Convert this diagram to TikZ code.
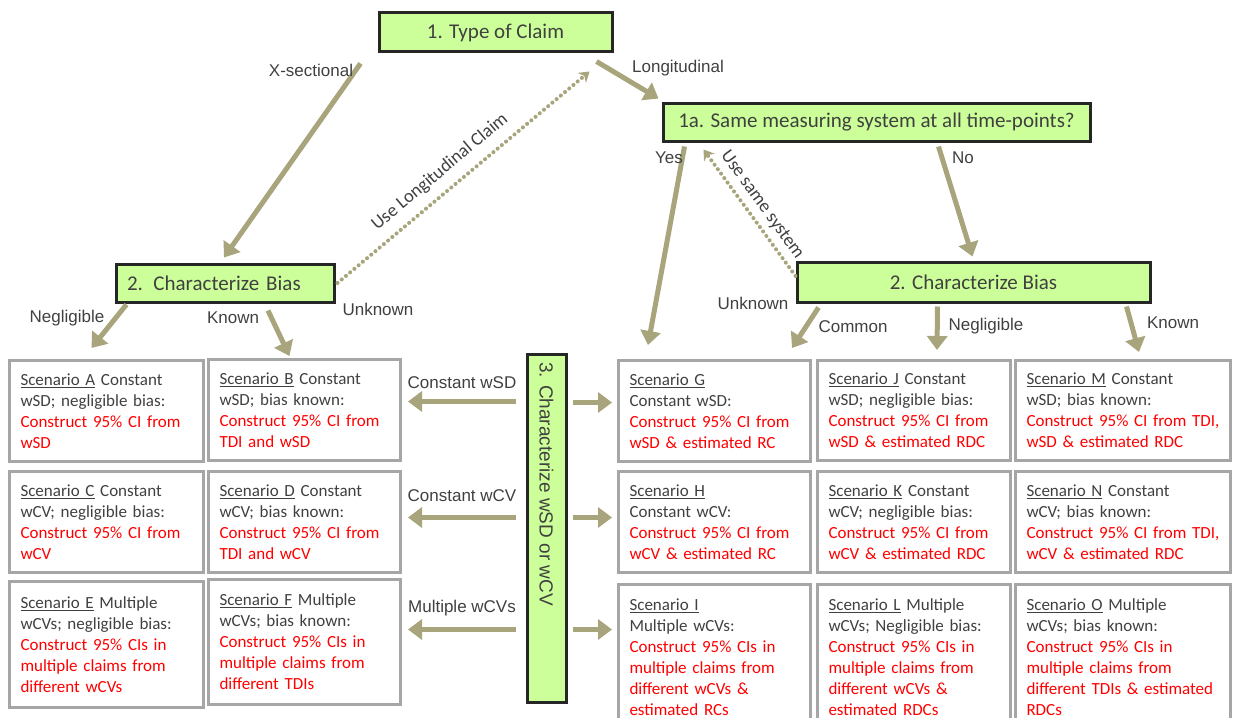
\documentclass[tikz,border=0pt]{standalone}
\usepackage{fontspec}
\setmainfont{Carlito}
\newfontfamily\arialfont{Liberation Sans}
\usetikzlibrary{arrows.meta,calc}
\definecolor{boxgreen}{HTML}{CCFF99}
\definecolor{boxedge}{HTML}{262626}
\definecolor{darktext}{HTML}{404040}
\definecolor{arrowolive}{HTML}{A8A47C}
\definecolor{scengray}{HTML}{A6A6A6}
\definecolor{scenred}{HTML}{FF0000}

\tikzset{
  question/.style={draw=boxedge, fill=boxgreen, line width=3pt, text=darktext,
    font=\fontsize{21}{24}\selectfont, inner sep=0pt},
  scenario/.style={draw=scengray, line width=3pt, anchor=north west, align=left,
    inner xsep=11pt, inner ysep=0pt, text=darktext, font=\fontsize{17}{21}\selectfont},
  branch/.style={text=darktext, font=\arialfont\fontsize{17}{20}\selectfont, inner sep=1pt},
  bigarrow/.style={draw=arrowolive, line width=5pt, -{Triangle[width=20pt,length=14pt]}},
  dotarrow/.style={draw=arrowolive, line width=4pt, dash pattern=on 0.1pt off 5.4pt,
    line cap=round, -{Stealth[width=13pt,length=10pt]}},
}

\begin{document}
\begin{tikzpicture}[x=1pt,y=-1pt]
  \useasboundingbox (0,0) rectangle (1233,717);

  % questions
  \node[question, minimum width=233pt, minimum height=39pt] (claim) at (495.5,32.5) {1. Type of Claim};
  \node[question, minimum width=427pt, minimum height=38pt] (same) at (876.5,122) {1a. Same measuring system at all time-points?};
  \node[question, text width=196pt, align=left, inner xsep=11pt, minimum height=38pt] (biasL) at (225,283) {2. Characterize Bias};
  \node[question, minimum width=353pt, minimum height=40pt] (biasR) at (973.5,282) {2. Characterize Bias};
  \node[question, minimum width=39pt, minimum height=348pt] (wsd) at (546.5,528) {};
  \node[text=darktext, font=\arialfont\fontsize{19}{22}\selectfont, rotate=-90, anchor=west, inner sep=0pt] (wsdlbl) at (546.5,362) {3. Characterize wSD or wCV};

  % scenarios
  \node[scenario, text width=172pt, minimum height=101pt] (scA) at (8,359) {\underline{Scenario A} Constant\\wSD; negligible bias:\\\color{scenred}Construct 95\% CI from\\wSD};
  \node[scenario, text width=170pt, minimum height=101pt] (scB) at (207,358) {\underline{Scenario B} Constant\\wSD; bias known:\\\color{scenred}Construct 95\% CI from\\TDI and wSD};
  \node[scenario, text width=172pt, minimum height=101pt] (scC) at (8,470) {\underline{Scenario C} Constant\\wCV; negligible bias:\\\color{scenred}Construct 95\% CI from\\wCV};
  \node[scenario, text width=170pt, minimum height=101pt] (scD) at (207,470) {\underline{Scenario D} Constant\\wCV; bias known:\\\color{scenred}Construct 95\% CI from\\TDI and wCV};
  \node[scenario, text width=172pt, minimum height=126pt] (scE) at (8,580) {\underline{Scenario E} Multiple\\wCVs; negligible bias:\\\color{scenred}Construct 95\% CIs in\\multiple claims from\\different wCVs};
  \node[scenario, text width=170pt, minimum height=125pt] (scF) at (207,578) {\underline{Scenario F} Multiple\\wCVs; bias known:\\\color{scenred}Construct 95\% CIs in\\multiple claims from\\different TDIs};
  \node[scenario, text width=170pt, minimum height=101pt] (scG) at (617,359) {\underline{Scenario G}\\Constant wSD:\\\color{scenred}Construct 95\% CI from\\wSD \& estimated RC};
  \node[scenario, text width=170pt, minimum height=101pt] (scH) at (617,470) {\underline{Scenario H}\\Constant wCV:\\\color{scenred}Construct 95\% CI from\\wCV \& estimated RC};
  \node[scenario, text width=170pt, minimum height=145pt] (scI) at (617,583) {\underline{Scenario I}\\Multiple wCVs:\\\color{scenred}Construct 95\% CIs in\\multiple claims from\\different wCVs \&\\estimated RCs};
  \node[scenario, text width=171pt, minimum height=100pt] (scJ) at (816,359) {\underline{Scenario J} Constant\\wSD; negligible bias:\\\color{scenred}Construct 95\% CI from\\wSD \& estimated RDC};
  \node[scenario, text width=171pt, minimum height=101pt] (scK) at (816,470) {\underline{Scenario K} Constant\\wCV; negligible bias:\\\color{scenred}Construct 95\% CI from\\wCV \& estimated RDC};
  \node[scenario, text width=171pt, minimum height=145pt] (scL) at (816,583) {\underline{Scenario L} Multiple\\wCVs; Negligible bias:\\\color{scenred}Construct 95\% CIs in\\multiple claims from\\different wCVs \&\\estimated RDCs};
  \node[scenario, text width=193pt, minimum height=100pt] (scM) at (1014,359) {\underline{Scenario M} Constant\\wSD; bias known:\\\color{scenred}Construct 95\% CI from TDI,\\wSD \& estimated RDC};
  \node[scenario, text width=193pt, minimum height=101pt] (scN) at (1014,470) {\underline{Scenario N} Constant\\wCV; bias known:\\\color{scenred}Construct 95\% CI from TDI,\\wCV \& estimated RDC};
  \node[scenario, text width=193pt, minimum height=145pt] (scO) at (1014,583) {\underline{Scenario O} Multiple\\wCVs; bias known:\\\color{scenred}Construct 95\% CIs in\\multiple claims from\\different TDIs \& estimated\\RDCs};

  % arrows
  \draw[bigarrow] ($(claim.south west)+(-17,10)$) -- ($(biasL.north)+(-1,-5)$);
  \draw[bigarrow] ($(claim.south east)+(-17,8)$) -- ($(same.north west)+(-3,-3)$);
  \draw[bigarrow] ($(same.south west)+(23,4)$) -- ($(scG.north west)+(31,-14)$);
  \draw[bigarrow] ($(same.south east)+(-153,4)$) -- ($(biasR.north)+(-1,-4)$);
  \draw[bigarrow] ($(biasL.south west)+(12,1)$) -- ($(scA.north)+(-15,-11)$);
  \draw[bigarrow] ($(biasL.south)+(43,7)$) -- ($(scB.north)+(-15,-2)$);
  \draw[bigarrow] ($(biasR.south west)+(23,4)$) -- ($(scG.north east)+(-20,-11)$);
  \draw[bigarrow] ($(biasR.south)+(-36,3)$) -- ($(scJ.north)+(23,-9)$);
  \draw[bigarrow] ($(biasR.south east)+(-25,3)$) -- ($(scM.north)+(16,-7)$);
  \draw[dotarrow] ($(biasL.east)+(2,0)$) -- ($(claim.south east)+(-24,18)$);
  \draw[dotarrow] ($(biasR.west)+(0,-6)$) -- ($(same.south west)+(42,7)$);

  \draw[bigarrow] ($(wsd.west |- scB.east)+(-10,-8.5)$) -- ($(scB.east)+(6,-8.5)$);
  \draw[bigarrow] ($(wsd.east |- scG.west)+(5,-8.5)$) -- ($(scG.west)+(-5,-8.5)$);
  \draw[bigarrow] ($(wsd.west |- scD.east)+(-10,-4.5)$) -- ($(scD.east)+(6,-4.5)$);
  \draw[bigarrow] ($(wsd.east |- scH.west)+(5,-4.5)$) -- ($(scH.west)+(-5,-4.5)$);
  \draw[bigarrow] ($(wsd.west |- scF.east)+(-10,-12.5)$) -- ($(scF.east)+(6,-12.5)$);
  \draw[bigarrow] ($(wsd.east |- scF.east)+(5,-12.5)$) -- ($(scI.west |- scF.east)+(-5,-12.5)$);

  % labels
  \node[branch] (xsec) at (311,70) {X-sectional};
  \node[branch] (longi) at (678,68) {Longitudinal};
  \node[branch] (yes) at (669,158) {Yes};
  \node[branch] (no) at (963,158) {No};
  \node[branch] (negL) at (67,318) {Negligible};
  \node[branch] (knownL) at (233,318) {Known};
  \node[branch] (unkL) at (378,309) {Unknown};
  \node[branch] (unkR) at (753,303) {Unknown};
  \node[branch] (common) at (853,327) {Common};
  \node[branch] (negR) at (986,326) {Negligible};
  \node[branch] (knownR) at (1173,323) {Known};
  \node[branch] (cwsd) at (462,383) {Constant wSD};
  \node[branch] (cwcv) at (462,496) {Constant wCV};
  \node[branch] (mwcv) at (462,608) {Multiple wCVs};
  \node[text=darktext, font=\fontsize{18.5}{20}\selectfont, rotate=40] (uselong) at (440,172) {Use Longitudinal Claim};
  \node[text=darktext, font=\fontsize{18.5}{20}\selectfont, rotate=-54] (usesame) at (762,205) {Use same system};
\end{tikzpicture}
\end{document}
